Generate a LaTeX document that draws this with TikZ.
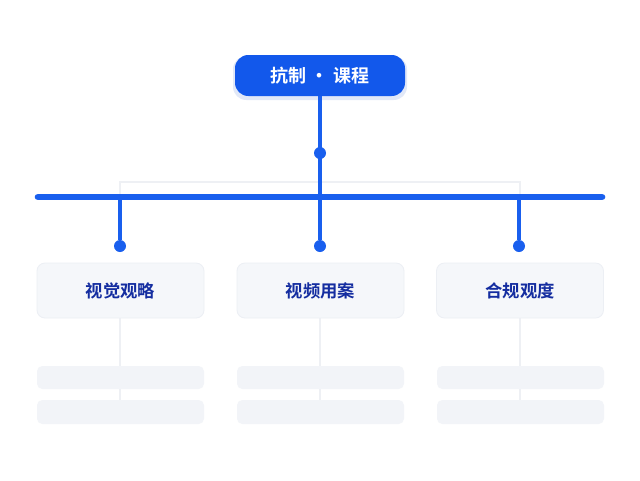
\documentclass[tikz,border=0pt]{standalone}
\usepackage{fontspec}
\newfontfamily\cjk{Noto Sans CJK SC}[BoldFont={Noto Sans CJK SC Bold}]
\definecolor{mainblue}{RGB}{18,88,235}
\definecolor{lineblue}{RGB}{25,95,238}
\definecolor{cardedge}{RGB}{236,239,244}
\definecolor{cardfill}{RGB}{245,247,250}
\definecolor{faintc}{RGB}{238,240,244}
\definecolor{barc}{RGB}{242,244,248}
\definecolor{shadowc}{RGB}{225,232,248}
\definecolor{labelc}{RGB}{20,45,160}
\begin{document}
\begin{tikzpicture}[x=0.75pt,y=-0.75pt,
  blue/.style={draw=none,fill=mainblue},
  bl/.style={draw=lineblue,line width=3pt,line cap=round},
  card/.style={draw=cardedge,fill=cardfill,rounded corners=6pt,line width=0.6pt},
  faint/.style={draw=faintc,line width=2pt},
  dot/.style={circle,fill=lineblue,inner sep=0pt,minimum size=9pt},
  lbl/.style={font=\cjk\bfseries\fontsize{13}{15}\selectfont,text=labelc}]
\useasboundingbox (0,0) rectangle (640,480);
\fill[white] (0,0) rectangle (640,480);
\draw[faint] (120,197) -- (120,182) -- (520,182) -- (520,197);
\foreach \x in {120,320,520}{\draw[faint] (\x,318) -- (\x,400);}
\foreach \x in {37,237,437}{
  \fill[barc,rounded corners=4pt] (\x,366) rectangle +(167,23);
  \fill[barc,rounded corners=4pt] (\x,400) rectangle +(167,24);}
\fill[shadowc,rounded corners=10pt] (233,56) rectangle (407,100);
\node[blue,rounded corners=10pt,minimum width=127.5pt,minimum height=30.75pt,text=white,font=\cjk\bfseries\fontsize{13.5}{15}\selectfont] (top) at (320,75.5) {抗制 · 课程};
\coordinate (hub) at (320,153);
\coordinate (bL) at (38,197);
\coordinate (bR) at (602,197);
\draw[bl,line cap=butt] (top.south) -- (320,197);
\draw[bl,line width=5pt] (bL) -- (bR);
\node[dot] at (hub) {};
\node[card,minimum width=125.25pt,minimum height=41.25pt,lbl] (c1) at (120.5,290.5) {视觉观略};
\node[card,minimum width=125.25pt,minimum height=41.25pt,lbl] (c2) at (320.5,290.5) {视频用案};
\node[card,minimum width=125.25pt,minimum height=41.25pt,lbl] (c3) at (520,290.5) {合规观度};
\foreach \x/\n in {120/d1,320/d2,519/d3}{
  \node[dot] (\n) at (\x,246) {};
  \draw[bl,line cap=butt] (\x,197) -- (\n);}
\end{tikzpicture}
\end{document}
